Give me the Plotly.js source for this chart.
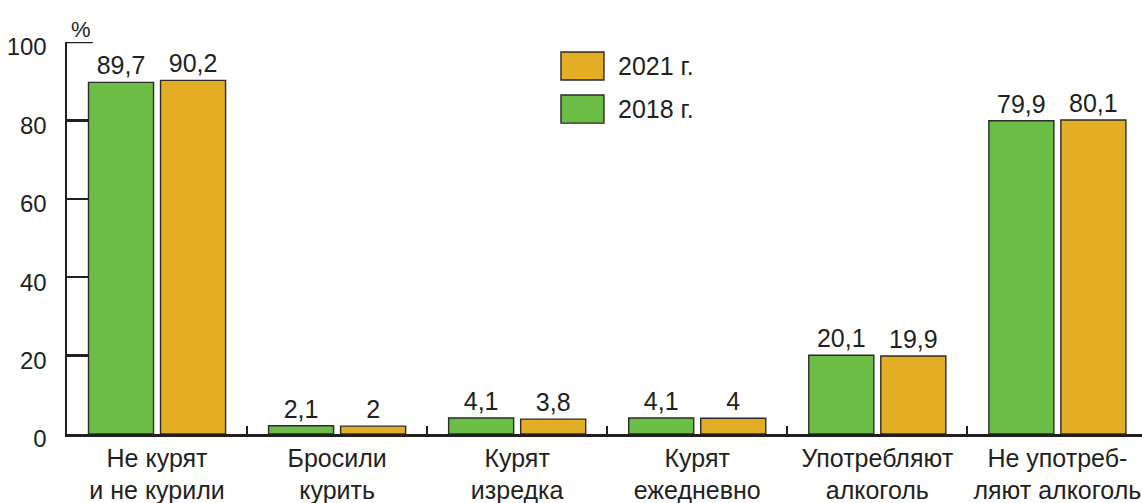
<!DOCTYPE html>
<html>
<head>
<meta charset="utf-8">
<script src="https://cdn.plot.ly/plotly-3.0.1.min.js"></script>
<style>html,body{margin:0;padding:0;background:#fff;}#chart{width:1142px;height:503px;}</style>
</head>
<body>
<div id="chart"></div>
<script>
const categories = ["Не курят<br>и не курили", "Бросили<br>курить", "Курят<br>изредка", "Курят<br>ежедневно", "Употребляют<br>алкоголь", "Не употреб-<br>ляют алкоголь"];
const values2018 = [89.7, 2.1, 4.1, 4.1, 20.1, 79.9];
const values2021 = [90.2, 2.0, 3.8, 4.0, 19.9, 80.1];
const yTicks = [0, 20, 40, 60, 80, 100];
const seriesNames = ["2018 г.", "2021 г."];

const fmt = v => String(v).replace('.', ',');
const FONT = 'Liberation Sans, Arial, sans-serif';
const INK = '#231f20';
const GREEN = '#6cbd45';
const ORANGE = '#e3ad24';

const traces = [
  {type:'bar', name:seriesNames[0], x:categories, y:values2018, text:values2018.map(fmt),
   textposition:'outside', constraintext:'none', cliponaxis:false, textfont:{family:FONT, size:25, color:INK},
   marker:{color:GREEN, line:{color:'#2b2b2b', width:1.4}}, hoverinfo:'skip'},
  {type:'bar', name:seriesNames[1], x:categories, y:values2021, text:values2021.map(fmt),
   textposition:'outside', constraintext:'none', cliponaxis:false, textfont:{family:FONT, size:25, color:INK},
   marker:{color:ORANGE, line:{color:'#2b2b2b', width:1.4}}, hoverinfo:'skip'}
];

const layout = {
  width:1142, height:503,
  margin:{l:67, r:0, t:42, b:69},
  paper_bgcolor:'#fff', plot_bgcolor:'#fff',
  showlegend:false,
  barmode:'group', bargap:0.2, bargroupgap:0.097,
  font:{family:FONT, size:24, color:INK},
  xaxis:{type:'category', range:[-0.5, 5.47], showline:true, linecolor:INK, linewidth:2.5,
         ticks:'inside', tickson:'boundaries', ticklen:8, tickwidth:2, tickcolor:INK, tickangle:0,
         tickfont:{family:FONT, size:25, color:INK}, showgrid:false, zeroline:false, fixedrange:true},
  yaxis:{range:[0,100], tickvals:yTicks, ticktext:yTicks.map(String), showline:true, linecolor:INK, linewidth:2.5,
         ticks:'inside', ticklen:22, tickwidth:2.5, tickcolor:INK, ticklabelstandoff:13, ticklabelshift:5,
         tickfont:{family:FONT, size:24, color:INK}, showgrid:false, zeroline:false, fixedrange:true},
  shapes:[
    {type:'line', xref:'paper', yref:'y', x0:0, x1:0.024, y0:100, y1:100, line:{color:INK, width:2.5}},
    {type:'rect', xref:'paper', yref:'paper', x0:0.4595, x1:0.4995, y0:0.903, y1:0.9745, fillcolor:ORANGE, line:{color:'#2b2b2b', width:1.4}},
    {type:'rect', xref:'paper', yref:'paper', x0:0.4595, x1:0.4995, y0:0.793, y1:0.8648, fillcolor:GREEN, line:{color:'#2b2b2b', width:1.4}}
  ],
  annotations:[
    {xref:'paper', yref:'paper', x:0.5107, y:0.9388, xanchor:'left', yanchor:'middle', text:seriesNames[1], showarrow:false, font:{family:FONT, size:25, color:INK}},
    {xref:'paper', yref:'paper', x:0.5107, y:0.829, xanchor:'left', yanchor:'middle', text:seriesNames[0], showarrow:false, font:{family:FONT, size:25, color:INK}},
    {xref:'paper', yref:'paper', x:0.013, y:1.0, xanchor:'center', yanchor:'bottom', yshift:-2, text:'%', showarrow:false, font:{family:FONT, size:22, color:INK}}
  ]
};

Plotly.newPlot('chart', traces, layout, {displayModeBar:false, staticPlot:true});
</script>
</body>
</html>
